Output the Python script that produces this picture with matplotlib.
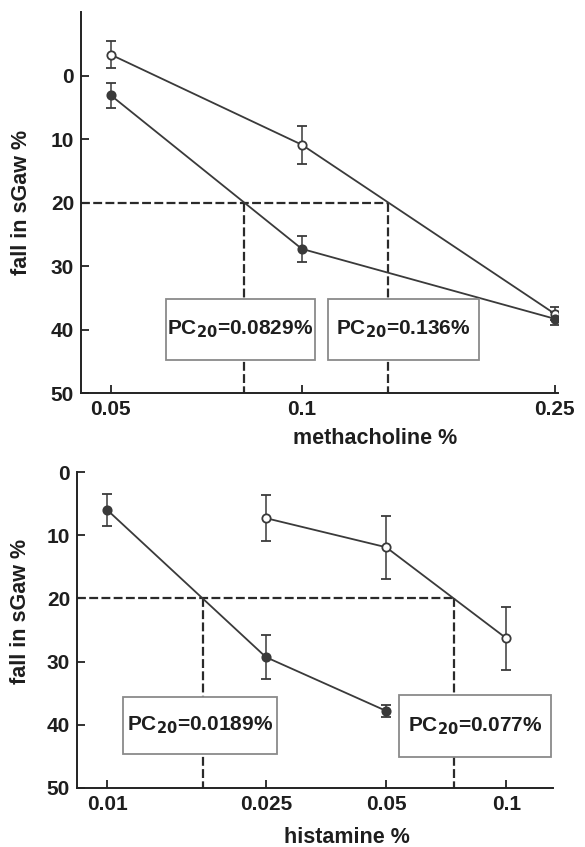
import numpy as np
import matplotlib
matplotlib.use("Agg")
import matplotlib.pyplot as plt
from matplotlib.patches import Rectangle
from matplotlib.ticker import FixedLocator, NullLocator, FixedFormatter

plt.rcParams['font.family'] = ['Liberation Sans', 'DejaVu Sans']

# methacholine panel
mch_dose = [0.05, 0.1, 0.25]
mch_open = [-3.3, 10.9, 37.5]
mch_open_err = [2.1, 3.0, 1.0]
mch_filled = [3.1, 27.3, 38.3]
mch_filled_err = [2.0, 2.0, 1.0]
mch_pc20 = ['PC$_{\\mathbf{20}}$=0.0829%', 'PC$_{\\mathbf{20}}$=0.136%']

# histamine panel
his_open_dose = [0.025, 0.05, 0.1]
his_open = [7.3, 11.9, 26.3]
his_open_err = [3.6, 5.0, 5.0]
his_filled_dose = [0.01, 0.025, 0.05]
his_filled = [6.0, 29.3, 37.8]
his_filled_err = [2.6, 3.5, 1.0]
his_ticks = [0.01, 0.025, 0.05, 0.1]
his_pc20 = ['PC$_{\\mathbf{20}}$=0.0189%', 'PC$_{\\mathbf{20}}$=0.077%']

LINE = '#3a3a3a'
DASH = '#2a2a2a'
TXT = '#1e1e1e'


# dose where a line crosses a 20% fall (log-linear interpolation)
def cross20(dose, vals):
  for i in range(len(vals) - 1):
    if vals[i] <= 20 <= vals[i + 1]:
      f = (20 - vals[i]) / (vals[i + 1] - vals[i])
      return 10 ** (np.log10(dose[i]) + f * (np.log10(dose[i + 1]) - np.log10(dose[i])))
  return None


def draw_series(ax, x, y, err, filled):
  ax.errorbar(x, y, yerr=err, color=LINE, lw=1.3, elinewidth=1.1, capsize=3.5, capthick=1.1,
              marker='o', ms=6, mfc=LINE if filled else 'white', mec=LINE, mew=1.3, zorder=3)


def style_axis(ax, ticks, labels, ylim, yticks):
  ax.set_xscale('log')
  ax.spines['top'].set_visible(False)
  ax.spines['right'].set_visible(False)
  for s in ['left', 'bottom']:
    ax.spines[s].set_linewidth(1.4)
    ax.spines[s].set_color('#222222')
  ax.xaxis.set_major_locator(FixedLocator(ticks))
  ax.xaxis.set_major_formatter(FixedFormatter(labels))
  ax.xaxis.set_minor_locator(NullLocator())
  ax.set_ylim(*ylim)
  ax.set_yticks(yticks)
  ax.tick_params(direction='in', length=6, width=1.3, labelsize=15, color='#222222', pad=5,
                 labelcolor=TXT)
  for lab in ax.get_xticklabels() + ax.get_yticklabels():
    lab.set_fontweight('bold')
  ax.set_ylabel('fall in sGaw %', fontsize=15.5, fontweight='bold', color=TXT)


def pc_lines(ax, xs, xmin):
  ax.plot([xmin, max(xs)], [20, 20], ls=(0, (4, 1.5)), color=DASH, lw=1.6, zorder=2)
  for x in xs:
    ax.plot([x, x], [20, 50], ls=(0, (4, 1.5)), color=DASH, lw=1.6, zorder=2)


def pc_box(ax, x0, x1, y0, y1, text):
  ax.add_patch(Rectangle((x0, y0), x1 - x0, y1 - y0, transform=ax.transAxes, fc='white',
                         ec='#8a8a8a', lw=1.3, zorder=4))
  ax.text((x0 + x1) / 2, (y0 + y1) / 2, text, transform=ax.transAxes, ha='center',
          va='center', fontsize=15, fontweight='bold', color=TXT, zorder=5)


fig = plt.figure(figsize=(5.85, 8.47), dpi=100)

# top: methacholine
ax1 = fig.add_axes([0.1385, 0.536, 0.815, 0.4498])
xmin1 = 0.0449
ax1.set_xlim(xmin1, 0.253)
draw_series(ax1, mch_dose, mch_open, mch_open_err, False)
draw_series(ax1, mch_dose, mch_filled, mch_filled_err, True)
pc_lines(ax1, [cross20(mch_dose, mch_filled), cross20(mch_dose, mch_open)], xmin1)
style_axis(ax1, mch_dose, ['0.05', '0.1', '0.25'], (50, -10), [0, 10, 20, 30, 40, 50])
ax1.set_xlabel('methacholine %', fontsize=15.5, fontweight='bold', color=TXT)
ax1.xaxis.set_label_coords(0.616, -0.092)
ax1.yaxis.set_label_coords(-0.103, 0.5)
pc_box(ax1, 0.178, 0.491, 0.087, 0.247, mch_pc20[0])
pc_box(ax1, 0.518, 0.834, 0.087, 0.247, mch_pc20[1])

# bottom: histamine
ax2 = fig.add_axes([0.1316, 0.0697, 0.8137, 0.373])
xmin2 = 0.0084
ax2.set_xlim(xmin2, 0.131)
draw_series(ax2, his_open_dose, his_open, his_open_err, False)
draw_series(ax2, his_filled_dose, his_filled, his_filled_err, True)
pc_lines(ax2, [cross20(his_filled_dose, his_filled), cross20(his_open_dose, his_open)], xmin2)
style_axis(ax2, his_ticks, ['0.01', '0.025', '0.05', '0.1'], (50, 0), [0, 10, 20, 30, 40, 50])
ax2.set_xlabel('histamine %', fontsize=15.5, fontweight='bold', color=TXT)
ax2.xaxis.set_label_coords(0.567, -0.122)
ax2.yaxis.set_label_coords(-0.097, 0.56)
pc_box(ax2, 0.097, 0.420, 0.108, 0.288, his_pc20[0])
pc_box(ax2, 0.676, 0.996, 0.098, 0.294, his_pc20[1])

fig.savefig('out.png', dpi=100, facecolor='white')
